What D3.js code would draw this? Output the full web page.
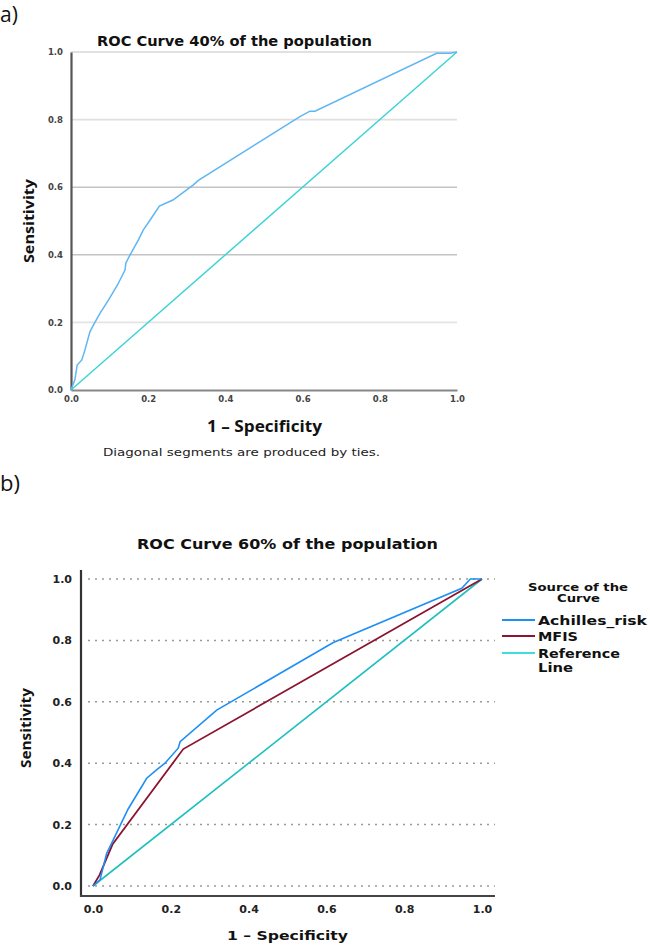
<!DOCTYPE html>
<html><head><meta charset="utf-8">
<script src="https://cdn.jsdelivr.net/npm/d3@7"></script>
<style>body{margin:0;background:#fff;} svg{display:block;}</style>
</head><body>
<svg id="c" width="650" height="945"></svg>
<script>
// ---- data ----
const ticks = [0, 0.2, 0.4, 0.6, 0.8, 1.0];
const tickLabels = ["0.0", "0.2", "0.4", "0.6", "0.8", "1.0"];
const refLine = [[0, 0], [1, 1]];
// panel a: ROC 40% of population (Achilles_risk)
const achilles40 = [[0,0],[0.01,0.03],[0.016,0.074],[0.028,0.089],[0.036,0.118],[0.049,0.172],[0.058,0.192],[0.075,0.227],[0.097,0.266],[0.12,0.31],[0.14,0.355],[0.142,0.375],[0.153,0.40],[0.175,0.445],[0.187,0.473],[0.205,0.503],[0.229,0.544],[0.264,0.562],[0.317,0.607],[0.33,0.62],[0.593,0.809],[0.619,0.825],[0.632,0.825],[0.947,0.996],[0.982,0.996],[1,1]];
// panel b: ROC 60% of population
const achilles60 = [[0,0],[0.018,0.02],[0.035,0.106],[0.052,0.15],[0.09,0.25],[0.138,0.351],[0.165,0.38],[0.185,0.40],[0.219,0.449],[0.224,0.47],[0.318,0.573],[0.6,0.78],[0.618,0.793],[0.948,0.97],[0.97,1.0],[1,1]];
const mfis60 = [[0,0],[0.017,0.036],[0.05,0.135],[0.232,0.446],[1,1]];
const legendNames = ["Achilles_risk", "MFIS", "Reference Line"];

const svg = d3.select("#c");
const line = (x, y) => d3.line().x(d => x(d[0])).y(d => y(d[1]));
function txt(t, o) {
  const e = svg.append("text").attr("x", o.x).attr("y", o.y)
    .attr("font-family", o.family || "DejaVu Sans")
    .attr("font-weight", o.bold ? "bold" : "normal")
    .attr("font-size", o.size).attr("fill", o.fill || "#111")
    .attr("text-anchor", o.anchor || "start").text(t);
  if (o.len) e.attr("textLength", o.len).attr("lengthAdjust", "spacingAndGlyphs");
  if (o.rot) e.attr("transform", `rotate(-90,${o.x},${o.y})`);
  return e;
}

// ===== Panel a =====
{
  const x = d3.scaleLinear().domain([0,1]).range([71,457]);
  const y = d3.scaleLinear().domain([0,1]).range([390,52]);
  txt("a)", {x:0, y:22, family:"Open Sans", size:21});
  txt("ROC Curve 40% of the population", {x:97, y:46, bold:true, size:13.5, len:275});
  const gridCols = ["#e4e4e4","#c4c4c4","#c4c4c4","#e0e0e0","#d6d6d6"];
  svg.append("g").selectAll("line").data(ticks.slice(1)).join("line")
    .attr("x1",x(0)).attr("x2",x(1)).attr("y1",d=>y(d)).attr("y2",d=>y(d))
    .attr("stroke",(d,i)=>gridCols[i]).attr("stroke-width",1.6);
  const ya = d3.axisLeft(y).tickValues(ticks).tickFormat((d,i)=>tickLabels[i]).tickSize(0).tickPadding(8);
  const gy = svg.append("g").attr("transform",`translate(${x(0)},0)`).call(ya);
  gy.select(".domain").attr("stroke","#555").attr("stroke-width",2.2);
  gy.selectAll("text").attr("font-family","DejaVu Sans").attr("font-weight","bold").attr("font-size",8.5).attr("fill","#444");
  const xa = d3.axisBottom(x).tickValues(ticks).tickFormat((d,i)=>tickLabels[i]).tickSize(0).tickPadding(6);
  const gx = svg.append("g").attr("transform",`translate(0,${y(0)})`).call(xa);
  gx.select(".domain").attr("stroke","#888").attr("stroke-width",2.2);
  gx.selectAll("text").attr("font-family","DejaVu Sans").attr("font-weight","bold").attr("font-size",8.5).attr("fill","#444");
  svg.append("path").datum(refLine).attr("d",line(x,y)).attr("fill","none").attr("stroke","#3fd3d6").attr("stroke-width",1.5);
  svg.append("path").datum(achilles40).attr("d",line(x,y)).attr("fill","none").attr("stroke","#5fb6f3").attr("stroke-width",1.5);
  txt("Sensitivity", {x:34, y:221, family:"Open Sans", bold:true, size:14, anchor:"middle", len:84, rot:true});
  txt("1 – Specificity", {x:207, y:432, family:"Open Sans", bold:true, size:16, len:115});
  txt("Diagonal segments are produced by ties.", {x:103, y:456, size:10.5, fill:"#222", len:277});
}

// ===== Panel b =====
{
  const x = d3.scaleLinear().domain([0,1]).range([93,482]);
  const y = d3.scaleLinear().domain([0,1]).range([886,579]);
  txt("b)", {x:0, y:491, family:"Open Sans", size:22});
  txt("ROC Curve 60% of the population", {x:137, y:549, bold:true, size:14.5, len:301});
  svg.append("g").selectAll("line").data(ticks).join("line")
    .attr("x1",88).attr("x2",495).attr("y1",d=>y(d)).attr("y2",d=>y(d))
    .attr("stroke","#9a9a9a").attr("stroke-width",1.5).attr("stroke-dasharray","2,5");
  const ya = d3.axisLeft(y).tickValues(ticks).tickFormat((d,i)=>tickLabels[i]).tickSize(0).tickPadding(9);
  const gy = svg.append("g").attr("transform","translate(81,0)").call(ya);
  gy.select(".domain").attr("d","M0,570V897").attr("stroke","#333").attr("stroke-width",2.2);
  gy.selectAll("text").attr("font-family","DejaVu Sans").attr("font-weight","bold").attr("font-size",11).attr("fill","#222");
  const xa = d3.axisBottom(x).tickValues(ticks).tickFormat((d,i)=>tickLabels[i]).tickSize(0).tickPadding(9);
  const gx = svg.append("g").attr("transform","translate(0,896)").call(xa);
  gx.select(".domain").attr("d","M80,0H495").attr("stroke","#444").attr("stroke-width",2.2);
  gx.selectAll("text").attr("font-family","DejaVu Sans").attr("font-weight","bold").attr("font-size",11).attr("fill","#222");
  svg.append("path").datum(refLine).attr("d",line(x,y)).attr("fill","none").attr("stroke","#1fbfbf").attr("stroke-width",1.6);
  svg.append("path").datum(mfis60).attr("d",line(x,y)).attr("fill","none").attr("stroke","#8b1530").attr("stroke-width",1.8);
  svg.append("path").datum(achilles60).attr("d",line(x,y)).attr("fill","none").attr("stroke","#1e8ff5").attr("stroke-width",1.6);
  txt("Sensitivity", {x:31, y:728, family:"Open Sans", bold:true, size:14, anchor:"middle", len:80, rot:true});
  txt("1 – Specificity", {x:227, y:940, bold:true, size:13, len:121});
  // legend
  txt("Source of the", {x:528, y:591, bold:true, size:10.5, len:100});
  txt("Curve", {x:557, y:602, bold:true, size:10.5, len:43});
  const legCols = ["#1e8ff5","#8b1530","#3fdede"];
  const legY = [620, 636, 653];
  const legLens = [[109],[40],[82,35]];
  legendNames.forEach((n,i)=>{
    svg.append("line").attr("x1",502).attr("x2",535).attr("y1",legY[i]).attr("y2",legY[i]).attr("stroke",legCols[i]).attr("stroke-width",1.8);
    const words = i===2 ? ["Reference","Line"] : [n];
    words.forEach((w,j)=>{
      txt(w, {x:538, y:legY[i]+5+j*13.5, bold:true, size:12, len:legLens[i][j]});
    });
  });
}
</script>
</body></html>
